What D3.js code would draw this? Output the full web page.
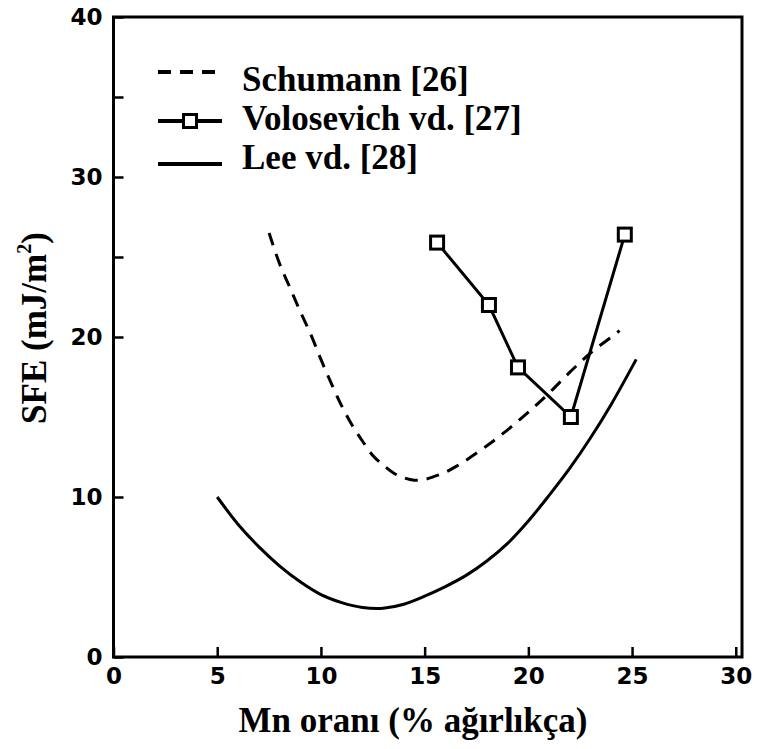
<!DOCTYPE html>
<html>
<head>
<meta charset="utf-8">
<script src="https://cdn.jsdelivr.net/npm/d3@7"></script>
<style>
  body { margin: 0; background: #fff; }
</style>
</head>
<body>
<svg width="760" height="749"></svg>
<script>
// series values (Mn wt% , SFE mJ/m2)
const schumannMn  = [7.5, 8, 8.5, 9, 9.5, 10, 10.5, 11, 11.5, 12, 12.5, 13, 13.5, 14, 14.5, 15, 15.5, 16, 16.5, 17, 18, 19, 20, 21, 22, 23, 24, 24.4];
const schumannSFE = [26.5, 24.6, 23.1, 21.6, 20.2, 18.6, 17.1, 15.7, 14.5, 13.5, 12.6, 12.0, 11.5, 11.2, 11.05, 11.1, 11.3, 11.55, 11.9, 12.3, 13.2, 14.2, 15.3, 16.5, 17.8, 19.0, 20.0, 20.4];

const voloMn  = [15.6, 18.1, 19.5, 22.05, 24.65];
const voloSFE = [25.9, 22.0, 18.1, 15.0, 26.4];

const leeMn  = [5, 6, 7, 8, 9, 10, 11, 12, 13, 14, 15, 16, 17, 18, 19, 20, 21, 22, 23, 24, 25.2];
const leeSFE = [10, 8.3, 6.9, 5.7, 4.7, 3.9, 3.4, 3.1, 3.05, 3.3, 3.8, 4.4, 5.1, 6.0, 7.1, 8.5, 10.1, 11.8, 13.7, 15.8, 18.6];

const xTickValues = [0, 5, 10, 15, 20, 25, 30];
const yTickValues = [0, 10, 20, 25, 30, 35, 40];
const yLabelled = [0, 10, 20, 30, 40];

const legendNames = ["Schumann [26]", "Volosevich vd. [27]", "Lee vd. [28]"];

const svg = d3.select("svg");

const xs = d3.scaleLinear().domain([0, 30.3]).range([113.5, 742]);
const ys = d3.scaleLinear().domain([0, 40]).range([657, 17]);

const serif = "'Liberation Serif', 'Times New Roman', serif";
const sans = "'DejaVu Sans', sans-serif";

// axes (ticks point inward)
const xAxis = svg.append("g")
  .attr("transform", `translate(0,${ys(0)})`)
  .call(d3.axisBottom(xs).tickValues(xTickValues).tickSize(-10).tickPadding(11).tickFormat(d3.format("d")));
xAxis.select(".domain").remove();
xAxis.selectAll("line").attr("stroke", "#000").attr("stroke-width", 2.5);
xAxis.selectAll("text")
  .attr("font-family", sans).attr("font-weight", "bold").attr("font-size", 23).attr("fill", "#000");

const yAxis = svg.append("g")
  .attr("transform", `translate(${xs(0)},0)`)
  .call(d3.axisLeft(ys).tickValues(yTickValues).tickSize(-10).tickPadding(11)
    .tickFormat(d => yLabelled.includes(d) ? d : ""));
yAxis.select(".domain").remove();
yAxis.selectAll("line").attr("stroke", "#000").attr("stroke-width", 2.5);
yAxis.selectAll("text")
  .attr("font-family", sans).attr("font-weight", "bold").attr("font-size", 23).attr("fill", "#000");

// frame
svg.append("rect")
  .attr("x", xs(0))
  .attr("y", ys(40))
  .attr("width", xs(30.3) - xs(0))
  .attr("height", ys(0) - ys(40))
  .attr("fill", "none")
  .attr("stroke", "#000")
  .attr("stroke-width", 3);

const line = d3.line()
  .x(d => xs(d[0]))
  .y(d => ys(d[1]))
  .curve(d3.curveCatmullRom.alpha(0.5));

const straight = d3.line()
  .x(d => xs(d[0]))
  .y(d => ys(d[1]));

const schumann = schumannMn.map((m, i) => [m, schumannSFE[i]]);
const volo = voloMn.map((m, i) => [m, voloSFE[i]]);
const lee = leeMn.map((m, i) => [m, leeSFE[i]]);

svg.append("path")
  .datum(schumann)
  .attr("fill", "none")
  .attr("stroke", "#000")
  .attr("stroke-width", 3)
  .attr("stroke-dasharray", "13,9")
  .attr("d", line);

svg.append("path")
  .datum(lee)
  .attr("fill", "none")
  .attr("stroke", "#000")
  .attr("stroke-width", 3)
  .attr("d", line);

svg.append("path")
  .datum(volo)
  .attr("fill", "none")
  .attr("stroke", "#000")
  .attr("stroke-width", 3)
  .attr("d", straight);

svg.selectAll(".sq")
  .data(volo)
  .enter()
  .append("rect")
  .attr("class", "sq")
  .attr("x", d => xs(d[0]) - 6.5)
  .attr("y", d => ys(d[1]) - 6.5)
  .attr("width", 13)
  .attr("height", 13)
  .attr("fill", "#fff")
  .attr("stroke", "#000")
  .attr("stroke-width", 3);

// legend
const legendLineY = [72, 121, 164];
const legendTextY = [91, 130, 169];
const lg = svg.append("g");

lg.append("line")
  .attr("x1", 158).attr("x2", 218)
  .attr("y1", legendLineY[0]).attr("y2", legendLineY[0])
  .attr("stroke", "#000").attr("stroke-width", 4)
  .attr("stroke-dasharray", "13,9");

lg.append("line")
  .attr("x1", 158).attr("x2", 222)
  .attr("y1", legendLineY[1]).attr("y2", legendLineY[1])
  .attr("stroke", "#000").attr("stroke-width", 4);
lg.append("rect")
  .attr("x", 190 - 6.5).attr("y", legendLineY[1] - 6.5)
  .attr("width", 13).attr("height", 13)
  .attr("fill", "#fff").attr("stroke", "#000").attr("stroke-width", 3);

lg.append("line")
  .attr("x1", 158).attr("x2", 222)
  .attr("y1", legendLineY[2]).attr("y2", legendLineY[2])
  .attr("stroke", "#000").attr("stroke-width", 4);

lg.selectAll("text")
  .data(legendNames)
  .enter()
  .append("text")
  .attr("x", 242)
  .attr("y", (d, i) => legendTextY[i])
  .attr("font-family", serif)
  .attr("font-weight", "bold")
  .attr("font-size", 35)
  .text(d => d);

// axis titles
svg.append("text")
  .attr("x", 413)
  .attr("y", 732)
  .attr("text-anchor", "middle")
  .attr("font-family", serif)
  .attr("font-weight", "bold")
  .attr("font-size", 35)
  .text("Mn oranı (% ağırlıkça)");

const yt = svg.append("text")
  .attr("transform", "translate(46,328) rotate(-90)")
  .attr("text-anchor", "middle")
  .attr("font-family", serif)
  .attr("font-weight", "bold")
  .attr("font-size", 35);
yt.append("tspan").text("SFE (mJ/m");
yt.append("tspan").attr("font-size", 20).attr("dy", -15).text("2");
yt.append("tspan").attr("dy", 15).text(")");
</script>
</body>
</html>
